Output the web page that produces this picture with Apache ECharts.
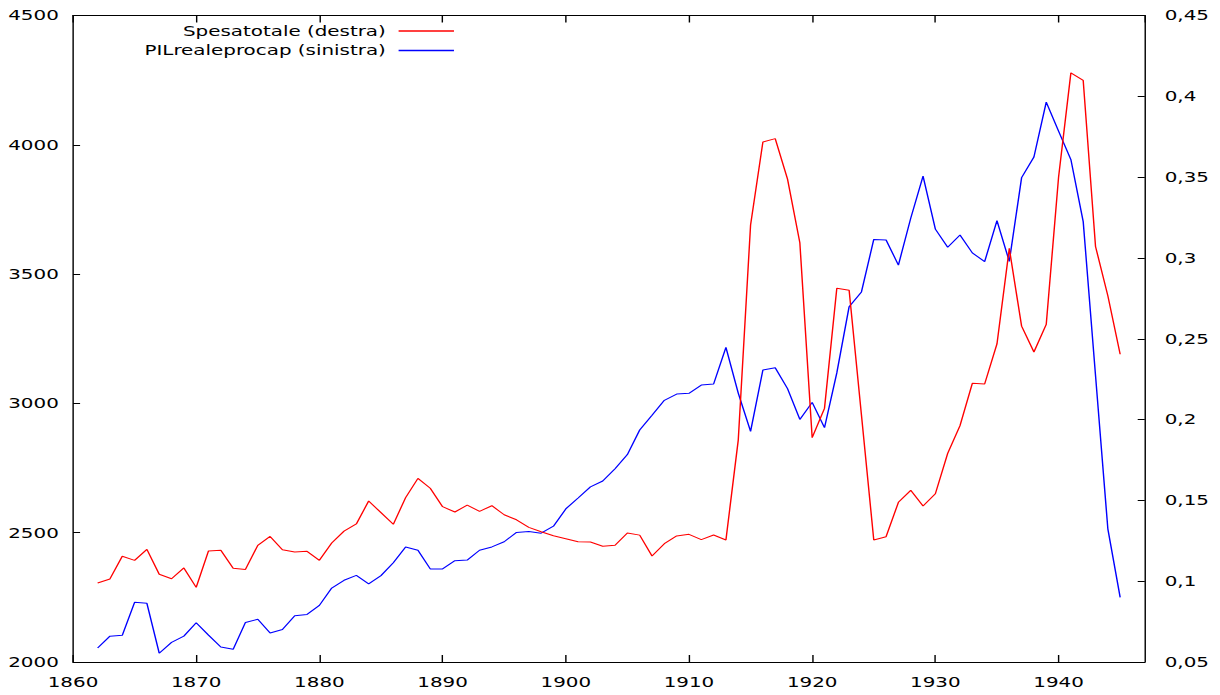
<!DOCTYPE html>
<html>
<head>
<meta charset="utf-8">
<title>Spesa totale e PIL reale pro capite</title>
<script src="https://cdn.jsdelivr.net/npm/echarts@6/dist/echarts.min.js"></script>
<style>
  html, body { margin: 0; padding: 0; background: #fff; overflow: hidden; }
  #wrap { width: 1220px; height: 695px; overflow: hidden; }
  /* the plot is laid out narrow and widened horizontally */
  #chart { width: 859px; height: 695px; transform: scaleX(1.42); transform-origin: 0 0; }
</style>
</head>
<body>
<div id="wrap"><div id="chart"></div></div>
<script>
// Spesa totale (quota, asse destro), 1862-1945
const spesaTotale = [
  0.0989, 0.1014, 0.1154, 0.1129, 0.1197, 0.1043, 0.1015, 0.1082, 0.0962, 0.1187,
  0.1191, 0.1080, 0.1073, 0.1222, 0.1277, 0.1195, 0.1181, 0.1185, 0.1129, 0.1236,
  0.1310, 0.1354, 0.1496, 0.1424, 0.1352, 0.1517, 0.1636, 0.1575, 0.1461, 0.1428,
  0.1471, 0.1432, 0.1467, 0.1411, 0.1380, 0.1333, 0.1306, 0.1281, 0.1263, 0.1244,
  0.1242, 0.1216, 0.1222, 0.1298, 0.1285, 0.1156, 0.1232, 0.1280, 0.1290, 0.1257,
  0.1286, 0.1255, 0.1873, 0.3204, 0.3717, 0.3738, 0.3488, 0.3094, 0.1888, 0.2069,
  0.2812, 0.2800, 0.2028, 0.1255, 0.1275, 0.1488, 0.1562, 0.1465, 0.1541, 0.1791,
  0.1962, 0.2224, 0.2220, 0.2468, 0.3059, 0.2578, 0.2418, 0.2589, 0.3499, 0.4145,
  0.4098, 0.3071, 0.2766, 0.2404
];

// PIL reale pro capite (asse sinistro), 1862-1945
const pilRealeProCap = [
  2054, 2100, 2103, 2231, 2227, 2034, 2076, 2100, 2152, 2104,
  2058, 2049, 2153, 2165, 2112, 2126, 2179, 2184, 2219, 2286,
  2316, 2335, 2302, 2334, 2384, 2445, 2432, 2360, 2360, 2392,
  2394, 2432, 2445, 2465, 2501, 2505, 2498, 2525, 2592, 2634,
  2677, 2700, 2747, 2802, 2897, 2954, 3012, 3036, 3039, 3071,
  3075, 3217, 3040, 2892, 3129, 3138, 3057, 2938, 3004, 2906,
  3118, 3374, 3431, 3634, 3632, 3535, 3716, 3879, 3674, 3604,
  3651, 3582, 3548, 3707, 3549, 3873, 3953, 4165, 4053, 3943,
  3703, 3108, 2515, 2250
];

const firstYear = 1862;
const years = pilRealeProCap.map((_, i) => firstYear + i);

const seriesNames = ['Spesatotale (destra)', 'PILrealeprocap (sinistra)'];

// axis ranges and tick steps
const xRange = [1860, 1947];
const xStep = 10;
const leftRange = [2000, 4500];
const leftStep = 500;
const rightRange = [0.05, 0.45];
const rightStep = 0.05;

const FONT = '"DejaVu Sans", Verdana, sans-serif';
const INK = '#000';

const chart = echarts.init(document.getElementById('chart'), null, { renderer: 'svg' });

const frameLine = { show: true, lineStyle: { color: INK, width: 1 } };

const option = {
  animation: false,
  backgroundColor: '#fff',
  textStyle: { fontFamily: FONT },
  grid: { left: 51.4, right: 52.8, top: 15.5, bottom: 33, containLabel: false },
  legend: {
    orient: 'vertical',
    align: 'right',
    right: 538.6,
    top: 24,
    padding: 0,
    itemWidth: 39,
    itemHeight: 14,
    itemGap: 5.5,
    // plain line key, no marker
    itemStyle: { opacity: 0, color: 'transparent', borderWidth: 0 },
    lineStyle: { width: 1.4 },
    textStyle: { fontFamily: FONT, fontSize: 14, color: INK, padding: [0, 4, 0, 0] },
    data: seriesNames
  },
  xAxis: [
    {
      type: 'value',
      min: xRange[0], max: xRange[1], interval: xStep,
      position: 'bottom',
      axisLine: frameLine,
      axisTick: { show: true, inside: true, length: 7, lineStyle: { color: INK } },
      axisLabel: {
        color: INK, fontFamily: FONT, fontSize: 14, margin: 13,
        showMaxLabel: false,
        formatter: v => (v % xStep === 0 ? String(v) : '')
      },
      splitLine: { show: false }
    },
    {
      type: 'value',
      min: xRange[0], max: xRange[1], interval: xStep,
      position: 'top',
      axisLine: frameLine,
      axisTick: { show: true, inside: true, length: 7, lineStyle: { color: INK } },
      axisLabel: { show: false },
      splitLine: { show: false }
    }
  ],
  yAxis: [
    {
      type: 'value',
      position: 'left',
      min: leftRange[0], max: leftRange[1], interval: leftStep,
      axisLine: frameLine,
      axisTick: { show: true, inside: true, length: 5, lineStyle: { color: INK } },
      axisLabel: {
        color: INK, fontFamily: FONT, fontSize: 14, margin: 10,
        formatter: v => String(v)
      },
      splitLine: { show: false }
    },
    {
      type: 'value',
      position: 'right',
      min: rightRange[0], max: rightRange[1], interval: rightStep,
      alignTicks: false,
      axisLine: frameLine,
      axisTick: { show: true, inside: true, length: 5, lineStyle: { color: INK } },
      axisLabel: {
        color: INK, fontFamily: FONT, fontSize: 14, margin: 14,
        formatter: v => String(Math.round(v * 100) / 100).replace('.', ',')
      },
      splitLine: { show: false }
    }
  ],
  series: [
    {
      name: seriesNames[0],
      type: 'line',
      xAxisIndex: 0,
      yAxisIndex: 1,
      symbol: 'none',
      data: years.map((y, i) => [y, spesaTotale[i]]),
      lineStyle: { color: '#ff0000', width: 1 },
      itemStyle: { color: '#ff0000' },
      z: 3
    },
    {
      name: seriesNames[1],
      type: 'line',
      xAxisIndex: 0,
      yAxisIndex: 0,
      symbol: 'none',
      data: years.map((y, i) => [y, pilRealeProCap[i]]),
      lineStyle: { color: '#0000ff', width: 1 },
      itemStyle: { color: '#0000ff' },
      z: 2
    }
  ]
};

chart.setOption(option);
</script>
</body>
</html>
